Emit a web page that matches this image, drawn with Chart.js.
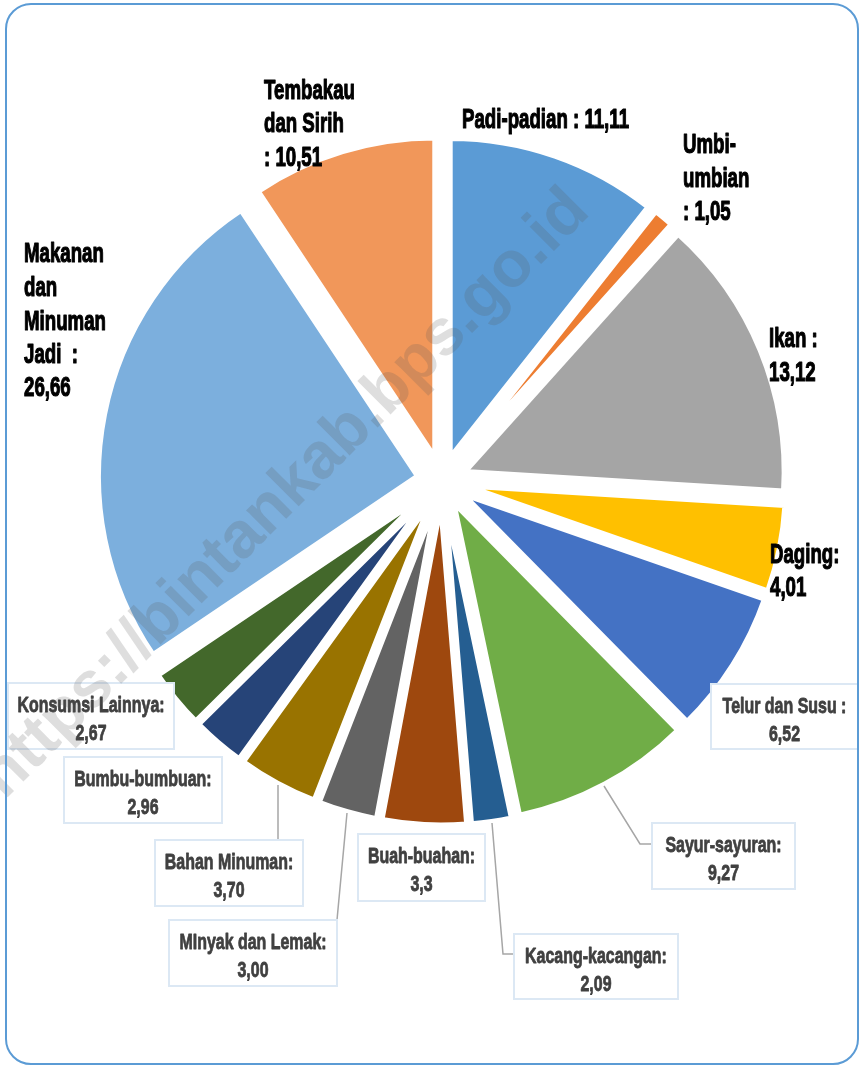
<!DOCTYPE html>
<html>
<head>
<meta charset="utf-8">
<script src="https://cdn.jsdelivr.net/npm/chart.js@4.4.1/dist/chart.umd.min.js"></script>
<style>
html,body{margin:0;padding:0;background:#fff;}
#wrap{position:relative;width:860px;height:1066px;overflow:hidden;}
#frame{position:absolute;left:5px;top:3px;width:854px;height:1062px;border:2px solid #5b9bd5;border-radius:26px;box-sizing:border-box;pointer-events:none;}
canvas{position:absolute;left:0;top:0;}
</style>
</head>
<body>
<div id="wrap">
<canvas id="c" width="860" height="1066"></canvas>
<div id="frame"></div>
</div>
<script>
const categories = ['Padi-padian','Umbi-umbian','Ikan','Daging','Telur dan Susu','Sayur-sayuran','Kacang-kacangan','Buah-buahan','MInyak dan Lemak','Bahan Minuman','Bumbu-bumbuan','Konsumsi Lainnya','Makanan dan Minuman Jadi','Tembakau dan Sirih'];
// slice sizes as drawn in the picture (percent)
const sliceShares = [10.64, 1.00, 14.33, 4.36, 7.28, 9.08, 2.01, 4.24, 2.97, 4.03, 2.65, 2.96, 25.11, 9.33];
// numbers as printed in the data labels
const valueLabels = ['11,11','1,05','13,12','4,01','6,52','9,27','2,09','3,3','3,00','3,70','2,96','2,67','26,66','10,51'];
const colors = ['#5b9bd5','#ed7d31','#a5a5a5','#ffc000','#4472c4','#70ad47','#255e91','#9e480e','#636363','#997300','#264478','#43682b','#7cafdd','#f1975a'];

// label layout (positions only; texts come from the arrays above)
const plainLabels = [
  {i:0,  x:462, ys:[128], lines:['Padi-padian : {v}']},
  {i:1,  x:683, ys:[153,187,220], lines:['Umbi-','umbian',': {v}']},
  {i:2,  x:769, ys:[347,381], lines:['Ikan :','{v}']},
  {i:3,  x:770, ys:[563,596], lines:['Daging:','{v}']},
  {i:12, x:24,  ys:[262,296,330,363,396], lines:['Makanan','dan','Minuman','Jadi  :','{v}']},
  {i:13, x:264, ys:[99,132,166], lines:['Tembakau','dan Sirih',': {v}']}
];
const boxLabels = [
  {i:4,  box:[711,684,858,749], first:'Telur dan Susu :'},
  {i:5,  box:[652,823,795,889], first:'Sayur-sayuran:', leader:[[604,786],[640,844],[652,844]]},
  {i:6,  box:[514,934,678,999], first:'Kacang-kacangan:', leader:[[492,823],[503,954],[514,954]]},
  {i:7,  box:[358,834,485,901], first:'Buah-buahan:'},
  {i:8,  box:[169,920,337,986], first:'MInyak dan Lemak:', leader:[[347,813],[337,920]]},
  {i:9,  box:[155,840,303,906], first:'Bahan Minuman:', leader:[[278,785],[278,840]]},
  {i:10, box:[64,757,222,823],  first:'Bumbu-bumbuan:'},
  {i:11, box:[8,683,174,749],   first:'Konsumsi Lainnya:'}
];

const EXPLODE = 25;
const FONT = '"Liberation Sans", Arial, sans-serif';

function squeezedText(ctx, t, x, y, sx, sw){
  ctx.save(); ctx.translate(x, y); ctx.scale(sx, 1);
  ctx.lineWidth = sw; ctx.lineJoin = 'round';
  ctx.strokeText(t, 0, 0);
  ctx.fillText(t, 0, 0);
  ctx.restore();
}

const explodePlugin = {
  id:'explode',
  beforeDatasetsDraw(chart){
    chart.getDatasetMeta(0).data.forEach(arc => {
      if (arc.__wrapped) return;
      const orig = arc.draw;
      arc.draw = function(ctx, area){
        const h = (this.startAngle + this.endAngle) / 2;
        ctx.save();
        ctx.translate(Math.cos(h) * EXPLODE, Math.sin(h) * EXPLODE);
        orig.call(this, ctx, area);
        ctx.restore();
      };
      arc.__wrapped = true;
    });
  }
};

const labelPlugin = {
  id:'labels',
  afterDraw(chart){
    const ctx = chart.ctx;
    ctx.save();
    // plain labels
    ctx.fillStyle = '#000';
    ctx.strokeStyle = '#000';
    ctx.font = 'bold 28.5px ' + FONT;
    ctx.textAlign = 'left';
    ctx.textBaseline = 'alphabetic';
    plainLabels.forEach(p => {
      p.lines.forEach((l, k) => {
        squeezedText(ctx, l.replace('{v}', valueLabels[p.i]), p.x, p.ys[k], 0.655, 1.2);
      });
    });
    // leader lines
    ctx.strokeStyle = '#a6a6a6';
    ctx.lineWidth = 1.5;
    boxLabels.forEach(b => {
      if (!b.leader) return;
      ctx.beginPath();
      b.leader.forEach((pt, k) => k ? ctx.lineTo(pt[0], pt[1]) : ctx.moveTo(pt[0], pt[1]));
      ctx.stroke();
    });
    // boxes
    boxLabels.forEach(b => {
      const [x1,y1,x2,y2] = b.box;
      ctx.fillStyle = '#ffffff';
      ctx.fillRect(x1, y1, x2-x1, y2-y1);
      ctx.strokeStyle = '#dce8f4';
      ctx.lineWidth = 2;
      ctx.strokeRect(x1, y1, x2-x1, y2-y1);
      ctx.fillStyle = '#404040';
      ctx.strokeStyle = '#404040';
      ctx.font = 'bold 22px ' + FONT;
      ctx.textAlign = 'center';
      const cx = (x1 + x2) / 2;
      squeezedText(ctx, b.first, cx, y1 + 28.5, 0.725, 0.8);
      squeezedText(ctx, valueLabels[b.i], cx, y1 + 57, 0.725, 0.8);
    });
    // watermark
    ctx.save();
    ctx.translate(298, 507);
    ctx.rotate(-Math.PI / 4);
    ctx.font = 'bold 65px "Liberation Sans", Arial, sans-serif';
    ctx.textAlign = 'center';
    ctx.fillStyle = 'rgba(90,90,90,0.2)';
    ctx.fillText('https://bintankab.bps.go.id', 0, 0);
    ctx.restore();
    ctx.restore();
  }
};

new Chart(document.getElementById('c'), {
  type: 'pie',
  data: {
    labels: categories,
    datasets: [{
      data: sliceShares,
      backgroundColor: colors,
      borderColor: '#ffffff',
      borderWidth: 5,
      offset: 0,
      hoverOffset: 0,
      clip: false
    }]
  },
  options: {
    responsive: false,
    animation: false,
    events: [],
    radius: 319,
    rotation: 0,
    layout: {padding: {left: 24, right: 0, top: 0, bottom: 104}},
    plugins: {legend: {display: false}, tooltip: {enabled: false}}
  },
  plugins: [explodePlugin, labelPlugin]
});
</script>
</body>
</html>
